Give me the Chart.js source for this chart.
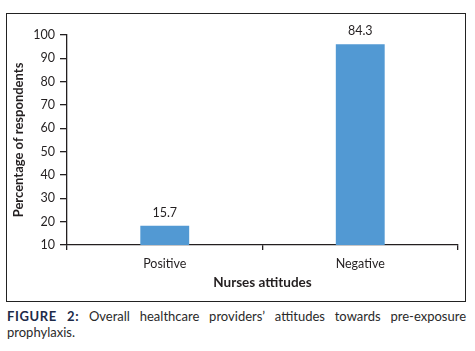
<!DOCTYPE html>
<html>
<head>
<meta charset="utf-8">
<script src="https://cdn.jsdelivr.net/npm/chart.js@4"></script>
<style>
  body { margin: 0; background: #fff; width: 475px; height: 351px; position: relative; overflow: hidden; font-family: Lato, "Open Sans", sans-serif; }
  #wrap { position: absolute; left: 0; top: 0; width: 475px; height: 300px; }
  #frame { position: absolute; left: 6px; top: 13px; width: 458px; height: 287px; border: 1.5px solid #222; }
  #caption { position: absolute; left: 7px; top: 308px; width: 459px; font-size: 13px; line-height: 16px; color: #2a2a2a; text-align: justify; }
  #caption b { color: #1d2a48; letter-spacing: 0.6px; }
</style>
</head>
<body>
<div id="frame"></div>
<div id="wrap"><canvas id="chart"></canvas></div>
<div id="caption"><b>FIGURE 2:</b> Overall healthcare providers’ attitudes towards pre-exposure prophylaxis.</div>
<script>
// categories and values
const categories = ["Positive", "Negative"];
const barHeights = [18.2, 96.0]; // where the bars end on the axis
const percentLabels = ["15.7", "84.3"]; // printed above the bars
const yTicks = [10, 20, 30, 40, 50, 60, 70, 80, 90, 100];

const ink = "#231f20";

// draws the value text above each bar
const barLabels = {
  id: "barLabels",
  afterDatasetsDraw(chart) {
    const ctx = chart.ctx;
    const meta = chart.getDatasetMeta(0);
    ctx.save();
    ctx.font = "12.5px Lato";
    ctx.fillStyle = ink;
    ctx.textAlign = "center";
    ctx.textBaseline = "middle";
    meta.data.forEach((bar, i) => {
      ctx.fillText(percentLabels[i], bar.x, bar.y - 13);
    });
    ctx.restore();
  },
};

new Chart(document.getElementById("chart"), {
  type: "bar",
  data: {
    labels: categories,
    datasets: [
      {
        data: barHeights,
        backgroundColor: "#5299d3",
        barPercentage: 0.25,
        categoryPercentage: 1,
      },
    ],
  },
  options: {
    responsive: true,
    maintainAspectRatio: false,
    animation: false,
    events: [],
    layout: {
      padding: { left: 8, right: 17, top: 35, bottom: 0 },
    },
    plugins: {
      legend: { display: false },
      tooltip: { enabled: false },
    },
    scales: {
      x: {
        grid: {
          display: true,
          drawOnChartArea: false,
          drawTicks: true,
          tickLength: 5,
          color: ink,
          lineWidth: 1.3,
        },
        border: { display: true, color: ink, width: 1.3 },
        ticks: {
          color: ink,
          font: { family: "Lato", size: 12.5 },
          padding: 6,
        },
        title: {
          display: true,
          text: "Nurses attitudes",
          color: ink,
          font: { family: "Lato", size: 13.5, weight: "bold" },
          padding: { top: 0, bottom: 9 },
        },
        afterFit: (scale) => {
          scale.height = 55;
        },
      },
      y: {
        min: 10,
        max: 100,
        afterBuildTicks: (scale) => {
          scale.ticks = yTicks.map((v) => ({ value: v }));
        },
        grid: {
          display: true,
          drawOnChartArea: false,
          drawTicks: true,
          tickLength: 7,
          color: ink,
          lineWidth: 1.3,
        },
        border: { display: true, color: ink, width: 1.3 },
        ticks: {
          color: ink,
          font: { family: "Lato", size: 12.5 },
          padding: 5,
        },
        title: {
          display: true,
          text: "Percentage of respondents",
          color: ink,
          font: { family: "Lato", size: 13, weight: "bold" },
          padding: { top: 3, bottom: 0 },
        },
        afterFit: (scale) => {
          scale.width = 59;
        },
      },
    },
  },
  plugins: [barLabels],
});
</script>
</body>
</html>
